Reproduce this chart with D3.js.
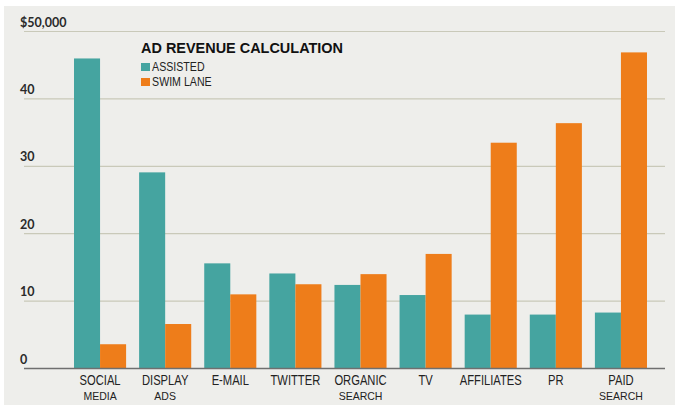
<!DOCTYPE html>
<html>
<head>
<meta charset="utf-8">
<script src="https://cdn.jsdelivr.net/npm/d3@7"></script>
<style>
  body { margin: 0; background: #fff; }
  svg { display: block; }
</style>
</head>
<body>
<svg id="chart" width="675" height="405"></svg>
<script>
// categories: first line / second line of the label
var categories = ['SOCIAL MEDIA', 'DISPLAY ADS', 'E-MAIL', 'TWITTER', 'ORGANIC SEARCH',
                  'TV', 'AFFILIATES', 'PR', 'PAID SEARCH'];
var labelTop = ['SOCIAL', 'DISPLAY', 'E-MAIL', 'TWITTER', 'ORGANIC', 'TV', 'AFFILIATES', 'PR', 'PAID'];
var labelBottom = ['MEDIA', 'ADS', '', '', 'SEARCH', '', '', '', 'SEARCH'];

// values in dollars
var assisted = [46000, 29100, 15600, 14100, 12400, 10900, 8000, 8000, 8300];
var swimLane = [3600, 6600, 11000, 12500, 14000, 17000, 33500, 36400, 46900];

var tickValues = [0, 10000, 20000, 30000, 40000, 50000];
var tickLabels = ['0', '10', '20', '30', '40', '$50,000'];

var seriesNames = ['ASSISTED', 'SWIM LANE'];
var seriesColors = ['#45a4a0', '#ee7d1a'];

var svg = d3.select('#chart');
var width = +svg.attr('width');
var height = +svg.attr('height');

// paper background
svg.append('rect')
  .attr('x', 4).attr('y', 6)
  .attr('width', width - 4).attr('height', height - 6)
  .attr('fill', '#eeeeeb');

var xScale = d3.scaleBand()
  .domain(categories)
  .range([67.5, 653.5])
  .paddingInner(0.2)
  .paddingOuter(0.1);

var xSub = d3.scaleBand()
  .domain(seriesNames)
  .range([0, xScale.bandwidth()]);

var yScale = d3.scaleLinear()
  .domain([0, 50000])
  .range([368.5, 31.5]);

// grid
var grid = svg.append('g');
grid.selectAll('line').data(tickValues.slice(1))
  .enter().append('line')
    .attr('x1', 24).attr('x2', 665)
    .attr('y1', function (d) { return yScale(d); })
    .attr('y2', function (d) { return yScale(d); })
    .attr('stroke', '#c9c9b9')
    .attr('stroke-width', 1.2);

// tick labels
svg.append('g').selectAll('text').data(tickValues)
  .enter().append('text')
    .attr('x', 20)
    .attr('y', function (d) { return yScale(d) - 5; })
    .attr('font-family', 'Lato, "Open Sans", sans-serif')
    .attr('font-size', 12.5)
    .attr('font-weight', 700)
    .attr('fill', '#2a2a2a')
    .text(function (d, i) { return tickLabels[i]; });

// bars
var rows = categories.map(function (c, i) {
  return { cat: c, values: [assisted[i], swimLane[i]] };
});

var groups = svg.append('g').selectAll('g').data(rows)
  .enter().append('g')
    .attr('transform', function (d) { return 'translate(' + xScale(d.cat) + ',0)'; });

groups.selectAll('rect')
  .data(function (d) {
    return d.values.map(function (v, j) { return { key: seriesNames[j], value: v, j: j }; });
  })
  .enter().append('rect')
    .attr('x', function (d) { return xSub(d.key); })
    .attr('width', xSub.bandwidth())
    .attr('y', function (d) { return yScale(d.value); })
    .attr('height', function (d) { return yScale(0) - yScale(d.value); })
    .attr('fill', function (d) { return seriesColors[d.j]; });

// baseline
svg.append('line')
  .attr('x1', 24).attr('x2', 665)
  .attr('y1', yScale(0)).attr('y2', yScale(0))
  .attr('stroke', '#6f6f6f')
  .attr('stroke-width', 1.5);

// category labels (condensed by horizontal scaling)
var labels = svg.append('g').selectAll('g').data(categories)
  .enter().append('g')
    .attr('transform', function (d) {
      return 'translate(' + (xScale(d) + xScale.bandwidth() / 2) + ',0)';
    });

labels.append('text')
  .attr('y', 385.5)
  .attr('transform', 'scale(0.8,1)')
  .attr('text-anchor', 'middle')
  .attr('font-family', '"Liberation Sans", Arial, sans-serif')
  .attr('font-size', 14)
  .attr('fill', '#222')
  .text(function (d, i) { return labelTop[i]; });

labels.append('text')
  .attr('y', 399.5)
  .attr('text-anchor', 'middle')
  .attr('font-family', '"Liberation Sans", Arial, sans-serif')
  .attr('font-size', 10.5)
  .attr('fill', '#222')
  .text(function (d, i) { return labelBottom[i]; });

// title and legend
svg.append('text')
  .attr('x', 141).attr('y', 53)
  .attr('font-family', '"Liberation Sans", Arial, sans-serif')
  .attr('font-weight', 'bold')
  .attr('font-size', 14.5)
  .attr('fill', '#111')
  .attr('textLength', 202)
  .attr('lengthAdjust', 'spacingAndGlyphs')
  .text('AD REVENUE CALCULATION');

var legend = svg.append('g').selectAll('g').data(seriesNames)
  .enter().append('g')
    .attr('transform', function (d, i) { return 'translate(141,' + (71 + i * 15) + ')'; });

legend.append('rect')
  .attr('x', 0).attr('y', -8)
  .attr('width', 9).attr('height', 8)
  .attr('fill', function (d, i) { return seriesColors[i]; });

legend.append('text')
  .attr('x', 13)
  .attr('transform', 'scale(0.85,1)')
  .attr('font-family', '"Liberation Sans", Arial, sans-serif')
  .attr('font-size', 12.5)
  .attr('fill', '#222')
  .text(function (d) { return d; });
</script>
</body>
</html>
